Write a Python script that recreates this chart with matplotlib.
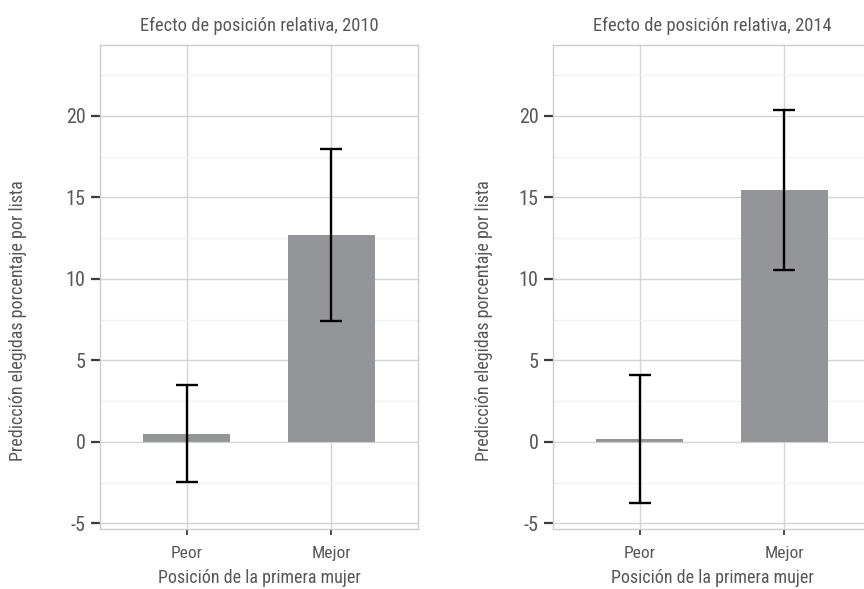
import numpy as np
import matplotlib
matplotlib.use('Agg')
import matplotlib.pyplot as plt
from matplotlib import font_manager

# pick a narrow face if one is available
names = {f.name for f in font_manager.fontManager.ttflist}
fam = 'DejaVu Sans'
for cand in ['Roboto Condensed', 'Liberation Sans Narrow', 'DejaVu Sans Condensed', 'Open Sans Condensed']:
    if cand in names:
        fam = cand
        break
plt.rcParams['font.family'] = [fam, 'DejaVu Sans']
plt.rcParams['axes.unicode_minus'] = False

categorias = ['Peor', 'Mejor']
titulos = ['Efecto de posición relativa, 2010', 'Efecto de posición relativa, 2014']
pred_2010 = [0.5, 12.7]
err_2010 = [2.97, 5.3]
pred_2014 = [0.17, 15.45]
err_2014 = [3.93, 4.9]

txt = '#575757'
fig = plt.figure(figsize=(8.64, 5.89), dpi=100)
pos = [[100/864, 60/589, 318/864, 484/589], [553/864, 60/589, 318/864, 484/589]]
ylab_x = [-0.23, -0.189]

for p, lx, tit, vals, errs in zip(pos, ylab_x, titulos, [pred_2010, pred_2014], [err_2010, err_2014]):
    ax = fig.add_axes(p)
    x = np.arange(1, len(categorias) + 1)
    ax.bar(x, vals, width=0.6, color='#939598', zorder=2)
    ax.errorbar(x, vals, yerr=errs, fmt='none', ecolor='black', elinewidth=1.7,
                capsize=8, capthick=1.7, zorder=3)
    ax.set_xlim(0.4, 2.6)
    ax.set_ylim(-5.34, 24.35)
    ax.set_xticks(x)
    ax.set_xticklabels(categorias)
    ax.set_yticks([-5, 0, 5, 10, 15, 20])
    ax.set_yticks(np.arange(-2.5, 24, 5), minor=True)
    ax.grid(True, which='major', color='#d4d4d4', lw=1.0, zorder=0)
    ax.grid(True, which='minor', axis='y', color='#f2f2f2', lw=1.0, zorder=0)
    ax.set_axisbelow(True)
    for s in ax.spines.values():
        s.set_color('#cccccc')
        s.set_linewidth(1.0)
    ax.tick_params(axis='y', which='major', length=6.5, width=1.6, color='#3a3a3a',
                   labelsize=14.5, labelcolor=txt, pad=4)
    ax.tick_params(axis='y', which='minor', length=0)
    ax.tick_params(axis='x', length=4, width=1.3, color='#3a3a3a',
                   labelsize=12.5, labelcolor=txt, pad=8)
    ax.set_title(tit, fontsize=13.3, color=txt, pad=10)
    ax.set_xlabel('Posición de la primera mujer', fontsize=13, color=txt, labelpad=6)
    ax.set_ylabel('Predicción elegidas porcentaje por lista', fontsize=13, color=txt)
    ax.yaxis.set_label_coords(lx, 0.43)

fig.savefig('out.png', dpi=100, facecolor='white')
